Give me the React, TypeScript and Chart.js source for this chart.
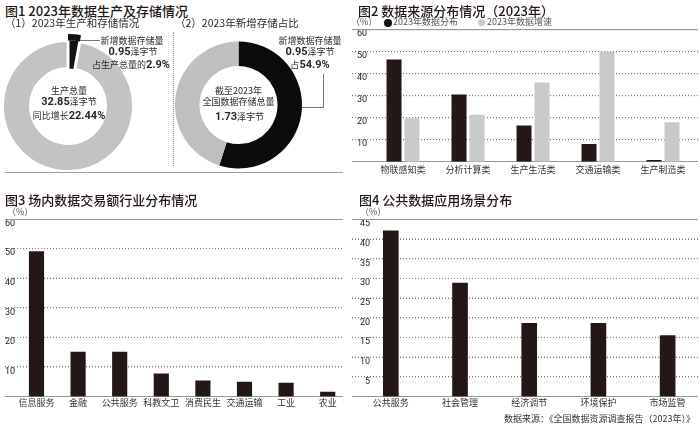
import React, { useEffect, useRef } from 'react';
import { Chart, registerables } from 'chart.js';

Chart.register(...registerables);

// ---------------- data ----------------
// 图1
const productionSplit = [2.9, 97.1]; // 新增存储量 / 生产总量其余 (%)
const storageSplit = [54.9, 45.1]; // 新增存储 / 存储总量其余 (%)

// 图2
const sourceCategories = ['物联感知类', '分析计算类', '生产生活类', '交通运输类', '生产制造类'];
const sourceShare2023 = [46.5, 30.5, 16.4, 8.0, 0.8];
const sourceGrowth2023 = [19.7, 21.3, 36.0, 50.0, 17.9];
const sourceTicks = [0, 10, 20, 30, 40, 50, 60];

// 图3
const tradeCategories = ['信息服务', '金融', '公共服务', '科教文卫', '消费民生', '交通运输', '工业', '农业'];
const tradeShare = [49, 15, 15, 7.7, 5.3, 4.9, 4.5, 1.5];
const tradeTicks = [0, 10, 20, 30, 40, 50, 60];

// 图4
const sceneCategories = ['公共服务', '社会管理', '经济调节', '环境保护', '市场监管'];
const sceneShare = [42.1, 28.8, 18.6, 18.6, 15.5];
const sceneTicks = [0, 5, 10, 15, 20, 25, 30, 35, 40, 45];

// ---------------- styles ----------------
const FONT = '"Noto Sans CJK SC", "Noto Sans", sans-serif';
const NUM = 'Roboto, "Noto Sans", sans-serif';
const DARK = '#231815';
const LIGHT = '#c9c9c9';
const TXT = '#2a2a2a';
const GRID_SOLID = '#999999';
const GRID_DOT = '#777777';

// grid lines painted with fills, positioned with the chart's x / y scales
const gridFillPlugin = {
  id: 'gridFill',
  beforeDatasetsDraw(chart: any) {
    const ctx = chart.ctx;
    const xs = chart.scales.x;
    const ys = chart.scales.y;
    const l = Math.round(xs.left);
    const r = Math.round(xs.right);
    const top = ys.max;
    ctx.save();
    (ys.ticks as any[]).forEach((t) => {
      const v = t.value;
      const row = Math.floor(ys.getPixelForValue(v));
      if (v === 0 || v === top) {
        ctx.fillStyle = GRID_SOLID;
        ctx.fillRect(l, row, r - l, 1);
      } else {
        ctx.fillStyle = GRID_DOT;
        for (let px = l; px < r; px += 3) ctx.fillRect(px, row, 1, 1);
      }
    });
    ctx.restore();
  },
};

type BarSpec = {
  categories: string[];
  series: { data: number[]; color: string }[];
  ticks: number[];
  xRange: [number, number];
  padding: { left: number; right: number; top: number; bottom: number };
  yLabelPad: number;
  xLabelPad: number;
  barThickness?: number;
  categoryPercentage?: number;
  barPercentage?: number;
};

function barConfig(s: BarSpec): any {
  const yMax = s.ticks[s.ticks.length - 1];
  const barSets = s.series.map((ser) => {
    const ds: any = {
      type: 'bar',
      data: ser.data.map((v, i) => ({ x: i, y: v })),
      backgroundColor: ser.color,
      borderWidth: 0,
      order: 0,
    };
    if (s.barThickness) ds.barThickness = s.barThickness;
    if (s.categoryPercentage) ds.categoryPercentage = s.categoryPercentage;
    if (s.barPercentage) ds.barPercentage = s.barPercentage;
    return ds;
  });
  // horizontal grid lines as line datasets behind the bars
  const gridSets = s.ticks.map((v) => {
    const solid = v === 0 || v === yMax;
    return {
      type: 'line',
      data: [
        { x: s.xRange[0], y: v },
        { x: s.xRange[1], y: v },
      ],
      borderColor: solid ? GRID_SOLID : GRID_DOT,
      borderWidth: 1,
      borderDash: solid ? [] : [1, 2],
      pointRadius: 0,
      pointHoverRadius: 0,
      fill: false,
      tension: 0,
      order: 10,
    };
  });
  return {
    type: 'bar',
    plugins: [gridFillPlugin],
    data: { datasets: [...barSets, ...gridSets] },
    options: {
      animation: false,
      responsive: false,
      layout: { padding: s.padding },
      plugins: {
        legend: { display: false },
        tooltip: { enabled: false },
      },
      scales: {
        x: {
          type: 'linear',
          offset: false,
          min: s.xRange[0],
          max: s.xRange[1],
          grid: { display: false, drawTicks: false },
          border: { display: false },
          afterBuildTicks: (scale: any) => {
            scale.ticks = s.categories.map((_, i) => ({ value: i }));
          },
          afterFit: (scale: any) => {
            scale.height = 20;
          },
          ticks: {
            autoSkip: false,
            maxRotation: 0,
            padding: s.xLabelPad,
            color: '#333',
            font: { family: FONT, size: 9 },
            callback: (_v: any, i: number) => s.categories[i],
          },
        },
        y: {
          type: 'linear',
          min: 0,
          max: yMax,
          afterBuildTicks: (scale: any) => {
            scale.ticks = s.ticks.map((v) => ({ value: v }));
          },
          afterFit: (scale: any) => {
            scale.width = 0;
          },
          grid: { display: false, drawTicks: false },
          border: { display: false },
          ticks: {
            mirror: true,
            crossAlign: 'far',
            padding: s.yLabelPad,
            labelOffset: 4.5,
            color: '#222',
            font: { family: NUM, size: 9 },
            callback: (v: any) => (v === 0 ? ' ' : String(v)),
          },
        },
      },
    },
  };
}

function donut1Config(): any {
  return {
    type: 'doughnut',
    data: {
      labels: ['新增数据存储量', '生产总量其余'],
      datasets: [
        {
          data: productionSplit,
          backgroundColor: ['#111111', 'rgba(0,0,0,0)'],
          borderWidth: 0,
          weight: 6.5,
        },
        {
          data: productionSplit,
          backgroundColor: ['#111111', '#c3c3c3'],
          borderColor: '#ffffff',
          borderWidth: [0, 3],
          weight: 28,
        },
      ],
    },
    options: {
      animation: false,
      responsive: false,
      radius: 72,
      cutout: `${(37.5 / 72) * 100}%`,
      layout: { padding: { left: 0, right: 14, top: 0, bottom: 0 } },
      plugins: { legend: { display: false }, tooltip: { enabled: false } },
    },
  };
}

function donut2Config(): any {
  return {
    type: 'doughnut',
    data: {
      labels: ['新增数据存储量', '存储总量其余'],
      datasets: [
        {
          data: storageSplit,
          backgroundColor: ['#0b0b0b', '#bfbfbf'],
          borderWidth: 0,
        },
      ],
    },
    options: {
      animation: false,
      responsive: false,
      radius: 63.5,
      cutout: `${(39 / 63.5) * 100}%`,
      plugins: { legend: { display: false }, tooltip: { enabled: false } },
    },
  };
}

function ChartCanvas(props: { config: () => any; left: number; top: number; width: number; height: number }) {
  const ref = useRef<HTMLCanvasElement>(null);
  useEffect(() => {
    const chart = new Chart(ref.current as HTMLCanvasElement, props.config());
    return () => chart.destroy();
  }, []);
  return (
    <canvas
      ref={ref}
      width={props.width}
      height={props.height}
      style={{ position: 'absolute', left: props.left, top: props.top, width: props.width, height: props.height }}
    />
  );
}

function Txt(props: {
  x: number;
  y: number;
  size: number;
  align?: 'left' | 'center' | 'right';
  color?: string;
  weight?: number;
  children: React.ReactNode;
}) {
  const { x, y, size, align = 'left', color = TXT, weight = 400, children } = props;
  const style: React.CSSProperties = {
    position: 'absolute',
    top: y - size * 0.56,
    fontSize: size,
    lineHeight: `${size}px`,
    color,
    fontWeight: weight,
    fontFamily: FONT,
    whiteSpace: 'nowrap',
  };
  if (align === 'left') style.left = x;
  else if (align === 'right') style.right = 700 - x;
  else {
    style.left = x;
    style.transform = 'translateX(-50%)';
  }
  return <div style={style}>{children}</div>;
}

function B(props: { children: React.ReactNode }) {
  return <span style={{ fontSize: 11, fontWeight: 700, fontFamily: NUM }}>{props.children}</span>;
}

function Line(props: { left: number; top: number; width?: number; height?: number; dotted?: boolean; color?: string }) {
  const { left, top, width = 0, height = 0, dotted = false, color = '#8a8a8a' } = props;
  const style: React.CSSProperties = { position: 'absolute', left, top, width, height };
  const b = `1px ${dotted ? 'dotted' : 'solid'} ${color}`;
  if (width > 0) style.borderTop = b;
  else style.borderLeft = b;
  return <div style={style} />;
}

function Dot(props: { cx: number; cy: number; d: number; color: string }) {
  return (
    <div
      style={{
        position: 'absolute',
        left: props.cx - props.d / 2,
        top: props.cy - props.d / 2,
        width: props.d,
        height: props.d,
        borderRadius: '50%',
        background: props.color,
      }}
    />
  );
}

export default function App() {
  return (
    <div
      style={{
        position: 'absolute',
        left: 0,
        top: 0,
        width: 700,
        height: 424,
        overflow: 'hidden',
        background: '#ffffff',
        fontFamily: FONT,
      }}
    >
      {/* 图1 */}
      <ChartCanvas config={donut1Config} left={0} top={30} width={150} height={152} />
      <ChartCanvas config={donut2Config} left={170} top={35} width={137} height={140} />

      {/* 图2 */}
      <ChartCanvas
        config={() =>
          barConfig({
            categories: sourceCategories,
            series: [
              { data: sourceShare2023, color: DARK },
              { data: sourceGrowth2023, color: LIGHT },
            ],
            ticks: sourceTicks,
            xRange: [-0.785, 4.538],
            padding: { left: 2, right: 2, top: 29.7, bottom: 8.3 },
            yLabelPad: 5,
            xLabelPad: 2,
            categoryPercentage: 0.554,
            barPercentage: 0.833,
          })
        }
        left={350}
        top={0}
        width={350}
        height={190}
      />

      {/* 图3 */}
      <ChartCanvas
        config={() =>
          barConfig({
            categories: tradeCategories,
            series: [{ data: tradeShare, color: DARK }],
            ticks: tradeTicks,
            xRange: [-0.757, 7.368],
            padding: { left: 5, right: 7, top: 29, bottom: 7.5 },
            yLabelPad: 0,
            xLabelPad: 1,
            barThickness: 14.5,
          })
        }
        left={0}
        top={190}
        width={350}
        height={234}
      />

      {/* 图4 */}
      <ChartCanvas
        config={() =>
          barConfig({
            categories: sceneCategories,
            series: [{ data: sceneShare, color: DARK }],
            ticks: sceneTicks,
            xRange: [-0.561, 4.439],
            padding: { left: 2, right: 2, top: 29.4, bottom: 7.5 },
            yLabelPad: 8,
            xLabelPad: 1,
            barThickness: 15,
          })
        }
        left={350}
        top={190}
        width={350}
        height={234}
      />

      {/* 图1 texts */}
      <Txt x={5} y={11} size={13} color="#231815" weight={500}>
        图1 2023年数据生产及存储情况
      </Txt>
      <Txt x={5} y={24} size={10.5}>（1）2023年生产和存储情况</Txt>
      <Txt x={175} y={24} size={10.5}>（2）2023年新增存储占比</Txt>

      <Line left={80} top={40} width={20} color="#777" />
      <Txt x={132} y={41} size={9} align="center">新增数据存储量</Txt>
      <Txt x={133} y={52.5} size={9} align="center">
        <B>0.95</B>泽字节
      </Txt>
      <Txt x={131} y={65} size={9} align="center">
        占生产总量的<B>2.9%</B>
      </Txt>

      <Txt x={69} y={91} size={9} align="center">生产总量</Txt>
      <Txt x={69} y={102.5} size={9} align="center">
        <B>32.85</B>泽字节
      </Txt>
      <Txt x={69} y={116.5} size={9} align="center">
        同比增长<B>22.44%</B>
      </Txt>

      <Line left={173} top={32} height={134} dotted color="#999" />

      <Line left={302} top={107} width={21} color="#777" />
      <Line left={323} top={74} height={34} color="#777" />
      <Txt x={310} y={41} size={9} align="center">新增数据存储量</Txt>
      <Txt x={310} y={52.5} size={9} align="center">
        <B>0.95</B>泽字节
      </Txt>
      <Txt x={310} y={65} size={9} align="center">
        占<B>54.9%</B>
      </Txt>

      <Txt x={238.5} y={91} size={9} align="center">截至2023年</Txt>
      <Txt x={238.5} y={102.5} size={9} align="center">全国数据存储总量</Txt>
      <Txt x={239.5} y={117} size={9} align="center">
        <B>1.73</B>泽字节
      </Txt>

      <Line left={5} top={172} width={338} color="#a0a0a0" />

      {/* 图2 texts */}
      <Txt x={358} y={11} size={13} color="#231815" weight={500}>
        图2 数据来源分布情况（2023年）
      </Txt>
      <Txt x={351} y={22.5} size={9} color="#555">（%）</Txt>
      <Dot cx={387.5} cy={22.5} d={8} color="#111" />
      <Txt x={393} y={22.5} size={9} color="#555">2023年数据分布</Txt>
      <Dot cx={481} cy={22.5} d={7} color={LIGHT} />
      <Txt x={487} y={22.5} size={9} color="#555">2023年数据增速</Txt>

      {/* 图3 texts */}
      <Txt x={5} y={200} size={13} color="#231815" weight={500}>
        图3 场内数据交易额行业分布情况
      </Txt>
      <Txt x={7} y={212.5} size={9} color="#555">（%）</Txt>

      {/* 图4 texts */}
      <Txt x={359} y={200} size={13} color="#231815" weight={500}>
        图4 公共数据应用场景分布
      </Txt>
      <Txt x={360} y={212.5} size={9} color="#555">（%）</Txt>

      <Txt x={695} y={419} size={9} align="right" color="#333">
        数据来源：《全国数据资源调查报告（2023年）》
      </Txt>
    </div>
  );
}
